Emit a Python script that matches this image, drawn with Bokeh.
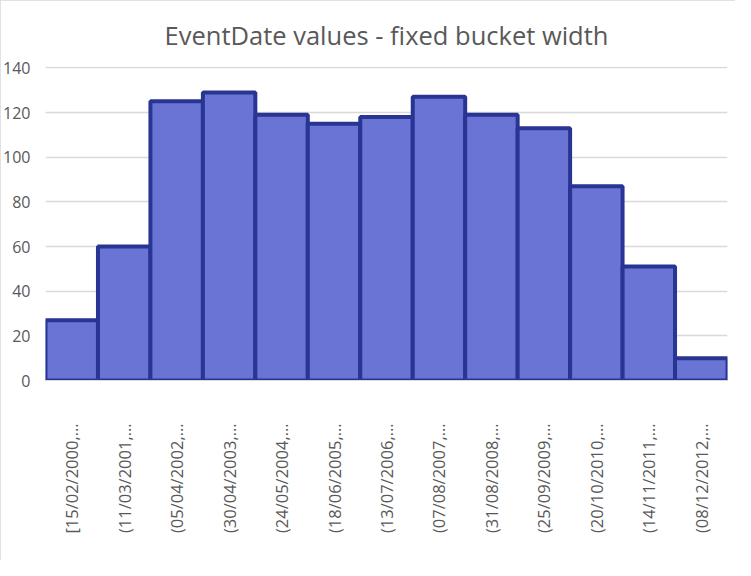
from bokeh.plotting import figure
from bokeh.models import FactorRange, Range1d, ColumnDataSource, FixedTicker
from bokeh.embed import file_html
from bokeh.resources import INLINE
import math

title = "EventDate values - fixed bucket width"
buckets = ["[15/02/2000,…", "(11/03/2001,…", "(05/04/2002,…", "(30/04/2003,…",
           "(24/05/2004,…", "(18/06/2005,…", "(13/07/2006,…", "(07/08/2007,…",
           "(31/08/2008,…", "(25/09/2009,…", "(20/10/2010,…", "(14/11/2011,…",
           "(08/12/2012,…"]
counts = [27, 60, 125, 129, 119, 115, 118, 127, 119, 113, 87, 51, 10]
y_ticks = [0, 20, 40, 60, 80, 100, 120, 140]

FONT = "Open Sans"
GRAY = "#595959"

src = ColumnDataSource(dict(x=buckets, top=counts))

p = figure(width=735, height=560, output_backend="svg", toolbar_location=None,
           x_range=FactorRange(factors=buckets, range_padding=0),
           y_range=Range1d(0, 140.6),
           min_border_left=44, min_border_right=8, min_border_top=0,
           min_border_bottom=180)

p.vbar(x="x", top="top", bottom=0, width=1.0, source=src,
       fill_color="#6A74D5", line_color="#283593", line_width=4)

p.title.text = title
p.title.text_font = FONT
p.title.text_font_size = "25.5px"
p.title.text_font_style = "normal"
p.title.text_color = GRAY
p.title.align = "center"
p.title.offset = 0
p.title.standoff = 30

p.outline_line_color = None
p.styles = {"outline": "1px solid #d9d9d9", "outline-offset": "-1px"}

p.xgrid.grid_line_color = None
p.ygrid.grid_line_color = "#d9d9d9"
p.ygrid.grid_line_width = 1.5

p.yaxis.ticker = FixedTicker(ticks=y_ticks)
p.yaxis.axis_line_color = None
p.yaxis.major_tick_line_color = None
p.yaxis.minor_tick_line_color = None
p.yaxis.major_label_text_font = FONT
p.yaxis.major_label_text_font_size = "16px"
p.yaxis.major_label_text_color = GRAY
p.yaxis.major_label_standoff = 9

p.xaxis.axis_line_color = "#d9d9d9"
p.xaxis.major_tick_line_color = None
p.xaxis.minor_tick_line_color = None
p.xaxis.major_label_orientation = math.pi / 2
p.xaxis.major_label_text_font = FONT
p.xaxis.major_label_text_font_size = "16.5px"
p.xaxis.major_label_text_color = GRAY
p.xaxis.major_label_standoff = 37

open("out.html", "w").write(file_html(p, INLINE))
